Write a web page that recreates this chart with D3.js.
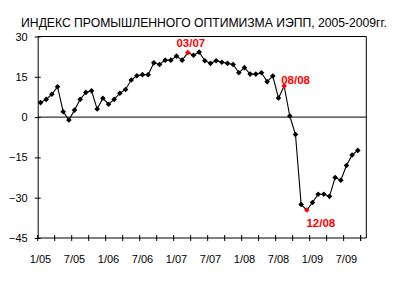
<!DOCTYPE html>
<html><head><meta charset="utf-8">
<script src="https://cdn.jsdelivr.net/npm/d3@7"></script>
<style>html,body{margin:0;padding:0;background:#fff;}svg{display:block;}</style>
</head><body>
<svg id="c" width="400" height="286"></svg>
<script>
const title = "ИНДЕКС ПРОМЫШЛЕННОГО ОПТИМИЗМА ИЭПП, 2005-2009гг.";
const categories = [
 "1/05","2/05","3/05","4/05","5/05","6/05","7/05","8/05","9/05","10/05","11/05","12/05",
 "1/06","2/06","3/06","4/06","5/06","6/06","7/06","8/06","9/06","10/06","11/06","12/06",
 "1/07","2/07","3/07","4/07","5/07","6/07","7/07","8/07","9/07","10/07","11/07","12/07",
 "1/08","2/08","3/08","4/08","5/08","6/08","7/08","8/08","9/08","10/08","11/08","12/08",
 "1/09","2/09","3/09","4/09","5/09","6/09","7/09","8/09","9/09","10/09"];
const values = [5.4,6.6,8.5,11.3,2.0,-1.1,2.6,6.6,9.2,9.8,3.0,7.0,
 4.8,6.6,8.9,10.3,13.8,15.4,15.8,15.8,20.2,19.6,21.2,21.2,
 22.7,21.2,24.0,23.0,24.2,21.0,20.0,21.0,20.4,20.0,19.6,16.5,
 18.4,16.0,16.0,16.5,13.2,15.3,7.1,11.6,0.4,-6.5,-32.5,-34.6,
 -31.8,-28.7,-28.7,-29.5,-22.5,-23.5,-18.0,-14.1,-12.4];
const xTickLabels = ["1/05","7/05","1/06","7/06","1/07","7/07","1/08","7/08","1/09","7/09"];
const yTicks = [30,15,0,-15,-30,-45];
const highlights = ["3/07","8/08","12/08"];
const highlightLabels = ["03/07","08/08","12/08"];

const svg = d3.select("#c");
const L = 37.7, R = 366.3, T = 36.5, B = 238;
const x = d3.scaleBand().domain(categories).range([L, R]).padding(0);
const y = d3.scaleLinear().domain([-45, 30]).range([B, T]);
const cx = c => x(c) + x.bandwidth()/2;
const font = "Liberation Sans, Arial, sans-serif";

// title, horizontally condensed to the reference width
const tg = svg.append("g");
const tt = tg.append("text").attr("x", 0).attr("y", 0).attr("text-anchor","middle")
  .attr("font-family", font).attr("font-size", 13.5).attr("fill","#000").text(title);
const natW = tt.node().getComputedTextLength();
const sx = Math.min(1, 366 / natW);
tg.attr("transform", `translate(204,27) scale(${sx},1)`);

// frame top/right
svg.append("path").attr("d", `M${L},${T}H${R}V${B}`).attr("fill","none").attr("stroke","#000").attr("stroke-width",1);

// y axis
const yAxis = d3.axisLeft(y).tickValues(yTicks).tickSizeInner(3).tickSizeOuter(0).tickPadding(7);
const gy = svg.append("g").attr("transform", `translate(${L},0)`).call(yAxis);
gy.selectAll(".tick line").attr("x2", 3).attr("x1", -3);
gy.selectAll("text").attr("font-family", font).attr("font-size", 11).attr("fill","#000");
gy.select(".domain").attr("stroke","#000");

// zero line
svg.append("line").attr("x1", L).attr("x2", R).attr("y1", y(0)).attr("y2", y(0)).attr("stroke","#000");

// x axis: ticks every 3 categories at band edges
const tickCats = categories.filter((d,i) => i % 3 === 0);
const gx = svg.append("g");
gx.append("line").attr("x1", L).attr("x2", R).attr("y1", B).attr("y2", B).attr("stroke","#000");
gx.selectAll("line.t").data(tickCats.concat(["__end"])).join("line").attr("class","t")
  .attr("x1", d => d === "__end" ? x(categories[57]) : x(d))
  .attr("x2", d => d === "__end" ? x(categories[57]) : x(d))
  .attr("y1", B-3).attr("y2", B+3).attr("stroke","#000");
gx.selectAll("text").data(xTickLabels).join("text")
  .attr("x", d => cx(d)).attr("y", 263).attr("text-anchor","middle")
  .attr("font-family", font).attr("font-size", 11).attr("fill","#000").text(d => d);

// line
const pts = values.map((v,i) => ({c: categories[i], v}));
svg.append("path").datum(pts)
  .attr("d", d3.line().x(d => cx(d.c)).y(d => y(d.v)))
  .attr("fill","none").attr("stroke","#000").attr("stroke-width",1.1);

// markers
const diamond = d3.symbol().type(d3.symbolDiamond2 || d3.symbolDiamond).size(20);
svg.selectAll("path.m").data(pts).join("path").attr("class","m")
  .attr("transform", d => `translate(${cx(d.c)},${y(d.v)})`)
  .attr("d", diamond)
  .attr("fill", d => highlights.includes(d.c) ? "#ff0000" : "#000");

// highlight labels
const offs = [[3,-6,"middle"],[-3,-2,"start"],[14,17,"middle"]];
highlights.forEach((c,i) => {
  const v = values[categories.indexOf(c)];
  svg.append("text").attr("x", cx(c) + offs[i][0]).attr("y", y(v) + offs[i][1])
    .attr("text-anchor", offs[i][2]).attr("font-family", font).attr("font-weight","bold")
    .attr("font-size", 11.5).attr("fill","#ff0000").text(highlightLabels[i]);
});
</script>
</body></html>
